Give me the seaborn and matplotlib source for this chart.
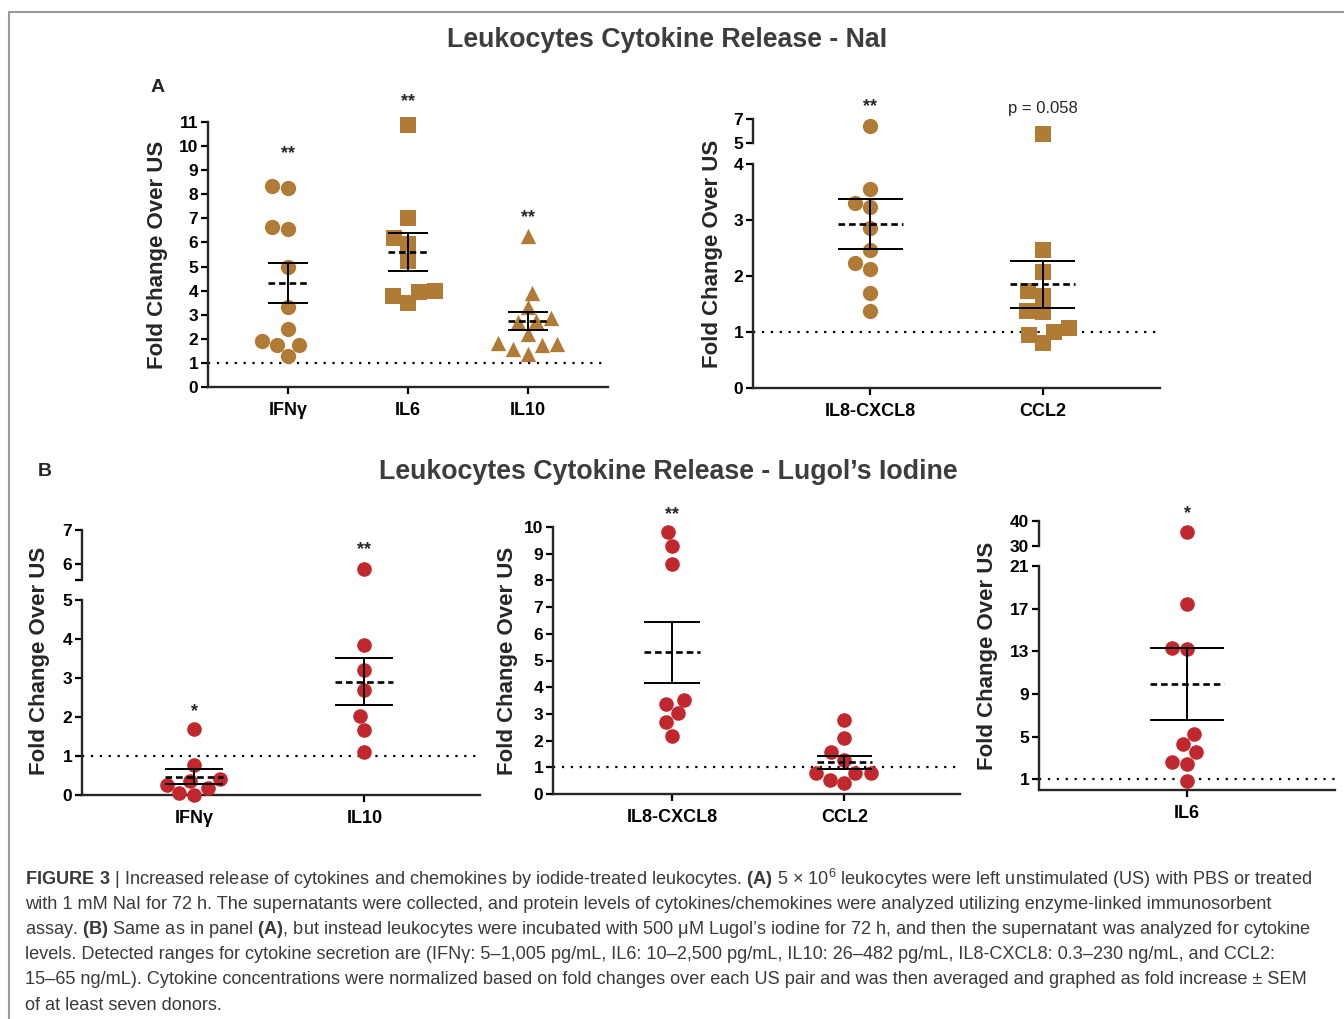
import numpy as np
import pandas as pd
import matplotlib
matplotlib.use("Agg")
import matplotlib.pyplot as plt
import seaborn as sns
from matplotlib import font_manager

# ---- values ----
# A: NaI
a_left_cats = ["IFNγ", "IL6", "IL10"]
a_ifng = [8.35, 8.25, 6.56, 6.63, 4.97, 3.33, 2.39, 1.76, 1.76, 1.91, 1.29]
a_il6 = [10.86, 7.03, 5.92, 6.2, 5.23, 3.95, 3.5, 3.77, 4.0]
a_il10 = [6.27, 3.91, 3.3, 2.88, 2.7, 2.75, 2.19, 1.84, 1.73, 1.8, 1.57, 1.39]
a_left_mean = [4.33, 5.62, 2.75]
a_left_sem = [0.83, 0.79, 0.38]
a_left_sig = ["**", "**", "**"]

a_right_cats = ["IL8-CXCL8", "CCL2"]
a_il8 = [6.39, 3.56, 3.3, 3.23, 2.86, 2.46, 2.23, 2.13, 1.70, 1.37]
a_ccl2 = [5.75, 2.46, 2.07, 1.74, 1.64, 1.38, 1.36, 1.0, 1.08, 0.94, 0.80]
a_right_mean = [2.93, 1.85]
a_right_sem = [0.45, 0.42]
a_right_sig = ["**", "p = 0.058"]

# B: Lugol's iodine
b_left_cats = ["IFNγ", "IL10"]
b_ifng = [1.68, 0.77, 0.36, 0.41, 0.17, 0.26, 0.0, 0.04]
b_il10 = [5.86, 3.85, 3.21, 2.70, 2.02, 1.66, 1.09]
b_left_mean = [0.47, 2.91]
b_left_sem = [0.2, 0.6]
b_left_sig = ["*", "**"]

b_mid_cats = ["IL8-CXCL8", "CCL2"]
b_il8 = [9.81, 9.28, 8.63, 3.38, 3.53, 3.03, 2.69, 2.19]
b_ccl2 = [2.78, 2.11, 1.56, 1.28, 0.8, 0.78, 0.78, 0.53, 0.4]
b_mid_mean = [5.31, 1.19]
b_mid_sem = [1.15, 0.25]
b_mid_sig = ["**", ""]

b_right_cats = ["IL6"]
b_il6 = [35.6, 17.44, 13.34, 13.22, 5.25, 4.31, 3.53, 2.59, 2.4, 0.84]
b_right_mean = [9.94]
b_right_sem = [3.39]
b_right_sig = ["*"]

caption = [
    r"$\mathbf{FIGURE\ 3}$ | Increased release of cytokines and chemokines by iodide-treated leukocytes. "
    r"$\mathbf{(A)}$ 5 × $10^{6}$ leukocytes were left unstimulated (US) with PBS or treated",
    "with 1 mM NaI for 72 h. The supernatants were collected, and protein levels of cytokines/chemokines "
    "were analyzed utilizing enzyme-linked immunosorbent",
    r"assay. $\mathbf{(B)}$ Same as in panel $\mathbf{(A)}$, but instead leukocytes were incubated with "
    "500 μM Lugol’s iodine for 72 h, and then the supernatant was analyzed for cytokine",
    "levels. Detected ranges for cytokine secretion are (IFNγ: 5–1,005 pg/mL, IL6: 10–2,500 pg/mL, "
    "IL10: 26–482 pg/mL, IL8-CXCL8: 0.3–230 ng/mL, and CCL2:",
    "15–65 ng/mL). Cytokine concentrations were normalized based on fold changes over each US pair "
    "and was then averaged and graphed as fold increase ± SEM",
    "of at least seven donors.",
]

BROWN = "#b07b34"
RED = "#c0282e"

sns.set_theme(style="ticks")
installed = {f.name for f in font_manager.fontManager.ttflist}
narrow = "Liberation Sans Narrow" if "Liberation Sans Narrow" in installed else "Liberation Sans"
plt.rcParams["font.family"] = ["Liberation Sans", "DejaVu Sans"]
plt.rcParams["mathtext.fontset"] = "custom"
plt.rcParams["mathtext.rm"] = narrow
plt.rcParams["mathtext.bf"] = narrow + ":bold"

W, H = 1344, 1019
fig = plt.figure(figsize=(W / 100, H / 100), dpi=100)
fig.patch.set_facecolor("white")


def box(x0, y0, x1, y1):
    return fig.add_axes([x0 / W, 1 - y1 / H, (x1 - x0) / W, (y1 - y0) / H])


def draw_panel(boxes, ylims, yticks, yticklabels, cats, groups, markers, color, size,
               mean, sem, sig, sig_y, xlim, cap, ylab_dx, ylab_frac):
    axes = [box(*b) for b in boxes]
    for i, (ax, (lo, hi)) in enumerate(zip(axes, ylims)):
        for cat, vals, m in zip(cats, groups, markers):
            v = [x for x in vals if lo <= x <= hi]
            if not v:
                continue
            df = pd.DataFrame({"cat": [cat] * len(v), "val": v})
            sns.swarmplot(data=df, x="cat", y="val", order=cats, ax=ax, color=color,
                          marker=m, size=size, linewidth=0, clip_on=False, zorder=3)
        ax.set_ylim(lo, hi)
        ax.set_xlim(*xlim)
        ax.set_yticks(yticks[i])
        ax.set_yticklabels(yticklabels[i], fontsize=12.5, fontweight="bold")
        ax.set_xlabel("")
        ax.set_ylabel("")
        ax.patch.set_alpha(0)
        for s in ["top", "right"]:
            ax.spines[s].set_visible(False)
        ax.spines["left"].set_linewidth(1.7)
        ax.spines["bottom"].set_linewidth(1.7)
        ax.tick_params(axis="both", width=1.6, length=5, pad=2, colors="black")
        if i > 0:
            ax.spines["bottom"].set_visible(False)
            ax.tick_params(axis="x", bottom=False, labelbottom=False)

    ax = axes[0]
    pos = np.arange(len(cats))
    ax.set_xticks(pos)
    ax.set_xticklabels(cats, fontsize=13, fontweight="bold")
    ax.tick_params(axis="x", pad=6)
    ax.axhline(1, color="black", lw=1.6, ls=(0, (1, 3)), zorder=2)
    mean = np.array(mean)
    sem = np.array(sem)
    ax.hlines(mean, pos - cap, pos + cap, colors="black", lw=1.9, ls=(0, (2.5, 1.5)), zorder=4)
    ax.hlines(np.r_[mean + sem, mean - sem], np.r_[pos, pos] - cap, np.r_[pos, pos] + cap,
              colors="black", lw=1.4, zorder=4)
    ax.vlines(pos, mean - sem, mean + sem, colors="black", lw=1.4, zorder=4)

    for x, s, y in zip(pos, sig, sig_y):
        target = [a for a, (lo, hi) in zip(axes, ylims) if lo <= y][-1]
        bold = s.startswith("*")
        target.text(x, y, s, ha="center", va="center", clip_on=False,
                    fontsize=13 if bold else 12, fontweight="bold" if bold else "normal")

    bw = (boxes[0][2] - boxes[0][0])
    ax.set_ylabel("Fold Change Over US", fontsize=16, fontweight="bold", va="center")
    ax.yaxis.set_label_coords(-ylab_dx / bw, ylab_frac)
    return axes


# A left
draw_panel([(208, 122, 608, 387)], [(0, 11)], [list(range(12))], [[str(t) for t in range(12)]],
           a_left_cats, [a_ifng, a_il6, a_il10], ["o", "s", "^"], BROWN, 11,
           a_left_mean, a_left_sem, a_left_sig, [9.7, 11.85, 7.05],
           (-0.667, 2.667), 0.17, 51, 0.5)

# A right (broken axis)
draw_panel([(753, 164, 1160, 388), (753, 119, 1160, 143)], [(0, 4), (5, 7)],
           [[0, 1, 2, 3, 4], [5, 7]], [["0", "1", "2", "3", "4"], ["5", "7"]],
           a_right_cats, [a_il8, a_ccl2], ["o", "s"], BROWN, 11,
           a_right_mean, a_right_sem, a_right_sig, [8.0, 7.9],
           (-0.68, 1.68), 0.19, 40, 0.60)

# B left (broken axis)
draw_panel([(82, 600, 480, 795), (82, 530, 480, 580)], [(0, 5), (5.55, 7)],
           [[0, 1, 2, 3, 4, 5], [5.55, 6, 7]], [["0", "1", "2", "3", "4", "5"], ["", "6", "7"]],
           b_left_cats, [b_ifng, b_il10], ["o", "o"], RED, 10.5,
           b_left_mean, b_left_sem, b_left_sig, [2.15, 6.44],
           (-0.66, 1.68), 0.17, 42, 0.687)

# B middle
draw_panel([(553, 527, 960, 794)], [(0, 10)], [list(range(11))], [[str(t) for t in range(11)]],
           b_mid_cats, [b_il8, b_ccl2], ["o", "o"], RED, 10.5,
           b_mid_mean, b_mid_sem, b_mid_sig, [10.45, 0],
           (-0.69, 1.67), 0.16, 46, 0.5)

# B right (broken axis)
draw_panel([(1039, 566, 1335, 790), (1039, 521, 1335, 546)], [(0, 21), (30, 40)],
           [[1, 5, 9, 13, 17, 21], [30, 40]], [["1", "5", "9", "13", "17", "21"], ["30", "40"]],
           b_right_cats, [b_il6], ["o"], RED, 10.5,
           b_right_mean, b_right_sem, b_right_sig, [43],
           (-1, 1), 0.25, 52, 0.598)

# titles and panel letters
fig.text(667 / W, 1 - 40 / H, "Leukocytes Cytokine Release - NaI", ha="center", va="center",
         fontsize=19.3, fontweight="bold", color="#3d3d3d")
fig.text(668 / W, 1 - 472 / H, "Leukocytes Cytokine Release - Lugol’s Iodine", ha="center",
         va="center", fontsize=19.3, fontweight="bold", color="#3d3d3d")
fig.text(158 / W, 1 - 87 / H, "A", ha="center", va="center", fontsize=14, fontweight="bold")
fig.text(45 / W, 1 - 471 / H, "B", ha="center", va="center", fontsize=14, fontweight="bold")

# frame around the figure
fig.add_artist(plt.Line2D([9 / W, 1], [1 - 12 / H, 1 - 12 / H], transform=fig.transFigure,
                          color="#9a9a9a", lw=1.5))
fig.add_artist(plt.Line2D([9 / W, 9 / W], [0, 1 - 12 / H], transform=fig.transFigure,
                          color="#9a9a9a", lw=1.5))

# caption
cap_size = 13.1 if narrow == "Liberation Sans" else 15
for i, line in enumerate(caption):
    fig.text(25 / W, 1 - (879 + 25.2 * i) / H, line, ha="left", va="center",
             fontsize=cap_size, family=[narrow, "DejaVu Sans"], color="#3a3a3a")

fig.savefig("out.png", dpi=100)
